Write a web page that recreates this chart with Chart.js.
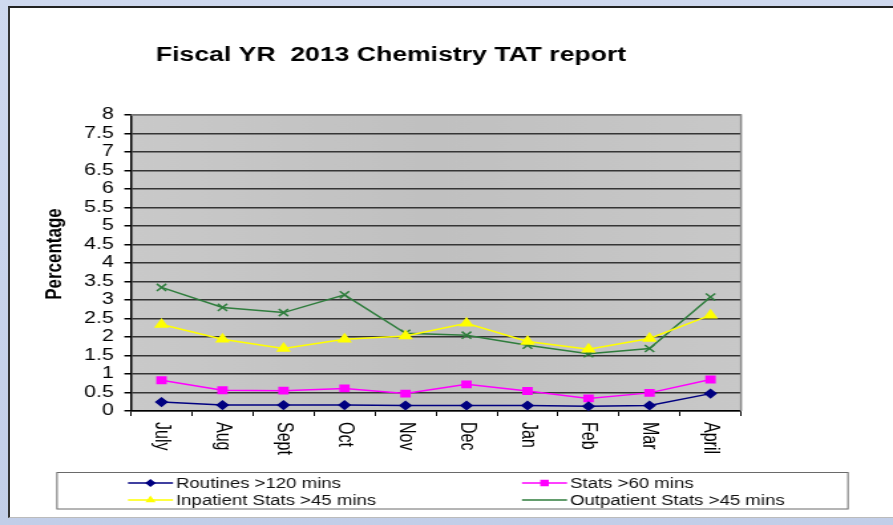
<!DOCTYPE html>
<html>
<head>
<meta charset="utf-8">
<title>Fiscal YR 2013 Chemistry TAT report</title>
<script src="https://cdn.jsdelivr.net/npm/chart.js@4.4.1/dist/chart.umd.min.js"></script>
<style>
  html, body { margin: 0; padding: 0; }
  body {
    width: 893px; height: 525px; overflow: hidden; position: relative;
    background: linear-gradient(#cfd9ef, #c2cee8);
  }
  #panel {
    position: absolute; left: 8px; top: 6px; width: 900px; height: 512px;
    background: #fff; box-sizing: border-box;
    border-top: 2px solid #222; border-left: 2px solid #333; border-bottom: 1px solid #bbb;
  }
  /* the scanned original is stretched sideways, so the canvas is too */
  #wrap {
    position: absolute; left: 0; top: 0; width: 672px; height: 525px;
    transform: scaleX(1.32887); transform-origin: 0 0;
  }
</style>
</head>
<body>
<div id="panel"></div>
<div id="wrap"><canvas id="chart-tat"></canvas></div>

<script>
// data
const months     = ["July", "Aug", "Sept", "Oct", "Nov", "Dec", "Jan", "Feb", "Mar", "April"];
const routines   = [0.24, 0.16, 0.16, 0.16, 0.15, 0.15, 0.15, 0.13, 0.15, 0.47];
const stats      = [0.83, 0.56, 0.55, 0.61, 0.47, 0.72, 0.54, 0.34, 0.49, 0.85];
const inpatient  = [2.34, 1.94, 1.69, 1.94, 2.03, 2.37, 1.88, 1.67, 1.96, 2.59];
const outpatient = [3.34, 2.80, 2.66, 3.14, 2.10, 2.05, 1.78, 1.55, 1.69, 3.08];
const seriesNames = ["Routines >120 mins", "Stats >60 mins", "Inpatient Stats >45 mins", "Outpatient Stats >45 mins"];
const yMin = 0, yMax = 8, yStep = 0.5;

const SX = 893 / 672;            // horizontal stretch of the wrapper
const px = x => x / SX;          // page x -> canvas x
const FONT = '"Liberation Sans", Arial, sans-serif';

const paper = {
  id: "paper",
  beforeDraw(chart) {
    const { ctx, chartArea: a } = chart;
    const g = ctx.createLinearGradient(a.left, 0, a.right, 0);
    g.addColorStop(0, "#c9c9c9");
    g.addColorStop(0.5, "#c0c0c0");
    g.addColorStop(1, "#c8c8c8");
    ctx.save();
    ctx.fillStyle = g;
    ctx.fillRect(a.left, a.top, a.width, a.height);
    ctx.restore();
  },
  afterDraw(chart) {
    const { ctx, chartArea: a } = chart;
    ctx.save();

    // plot area frame (top / right)
    ctx.strokeStyle = "#8a8a8a";
    ctx.lineWidth = 1.5;
    ctx.beginPath();
    ctx.moveTo(a.left, a.top); ctx.lineTo(a.right, a.top); ctx.lineTo(a.right, a.bottom);
    ctx.stroke();

    // title
    ctx.fillStyle = "#000";
    ctx.font = "bold 20px " + FONT;
    ctx.textAlign = "center";
    ctx.textBaseline = "middle";
    ctx.fillText("Fiscal YR  2013 Chemistry TAT report", px(391), 55);

    // y title
    ctx.save();
    ctx.translate(px(55), 254);
    ctx.rotate(-Math.PI / 2);
    ctx.font = "bold 17px " + FONT;
    ctx.fillText("Percentage", 0, 0);
    ctx.restore();

    // x labels, turned clockwise
    const xs = chart.scales.x;
    ctx.font = "16px " + FONT;
    ctx.textAlign = "left";
    months.forEach((m, i) => {
      ctx.save();
      ctx.translate(xs.getPixelForTick(i), a.bottom + 11);
      ctx.rotate(Math.PI / 2);
      ctx.fillText(m, 0, 0);
      ctx.restore();
    });

    // legend box
    const bx = px(57), by = 472.5, bw = px(848) - px(57), bh = 36.5;
    ctx.fillStyle = "#fff";
    ctx.fillRect(bx, by, bw, bh);
    ctx.strokeStyle = "#6a6a6a";
    ctx.lineWidth = 1;
    ctx.strokeRect(bx, by, bw, bh);

    const spots = [[128, 483], [522, 483], [128, 500], [522, 500]];
    ctx.font = "14px " + FONT;
    chart.data.datasets.forEach((ds, i) => {
      const x0 = px(spots[i][0]), y = spots[i][1], len = px(45);
      ctx.strokeStyle = ds.borderColor;
      ctx.lineWidth = 1.5;
      ctx.beginPath(); ctx.moveTo(x0, y); ctx.lineTo(x0 + len, y); ctx.stroke();
      if (ds.legendMarker) {
        ctx.fillStyle = ds.pointBackgroundColor;
        ctx.strokeStyle = ds.pointBorderColor;
        Chart.helpers.drawPoint(ctx, { pointStyle: ds.pointStyle, radius: ds.legendMarker, borderWidth: 1, rotation: 0 }, x0 + len / 2, y);
      }
      ctx.fillStyle = "#111";
      ctx.textBaseline = "middle";
      ctx.fillText(ds.label, x0 + len + px(3), y + 1);
    });

    ctx.restore();
  }
};

const line = (label, data, color, style, radius, marker) => ({
  label, data,
  borderColor: color, borderWidth: 1.5, tension: 0,
  pointStyle: style, pointRadius: radius, pointHoverRadius: radius,
  pointBackgroundColor: color, pointBorderColor: color, pointBorderWidth: 1.5,
  legendMarker: marker,
});

new Chart(document.getElementById("chart-tat").getContext("2d"), {
  type: "line",
  data: {
    labels: months,
    datasets: [
      line(seriesNames[0], routines,   "#000080", "rectRot",  4,   3),
      line(seriesNames[1], stats,      "#ff00ff", "rect",     4.5, 3.5),
      line(seriesNames[2], inpatient,  "#ffff00", "triangle", 5,   3),
      line(seriesNames[3], outpatient, "#2f7d3d", "crossRot", 5,   0),
    ],
  },
  options: {
    responsive: true, maintainAspectRatio: false, animation: false,
    layout: { padding: { left: 0, right: 672 - px(741), top: 115, bottom: 74 } },
    plugins: { legend: { display: false }, title: { display: false }, tooltip: { enabled: false } },
    scales: {
      x: {
        offset: true,
        afterFit: s => { s.height = 40; },
        grid: { offset: true, drawOnChartArea: false, tickLength: 5, color: "#000", lineWidth: 1 },
        border: { color: "#000", width: 1.5 },
        ticks: { display: false },
      },
      y: {
        min: yMin, max: yMax,
        afterFit: s => { s.width = px(131); },
        grid: { color: "#353535", lineWidth: 1.5, tickLength: 5, tickColor: "#000" },
        border: { color: "#000", width: 1.5 },
        ticks: {
          stepSize: yStep, autoSkip: false, padding: 8, color: "#000",
          font: { family: FONT, size: 16 },
          callback: v => String(v),
        },
      },
    },
  },
  plugins: [paper],
});
</script>
</body>
</html>
